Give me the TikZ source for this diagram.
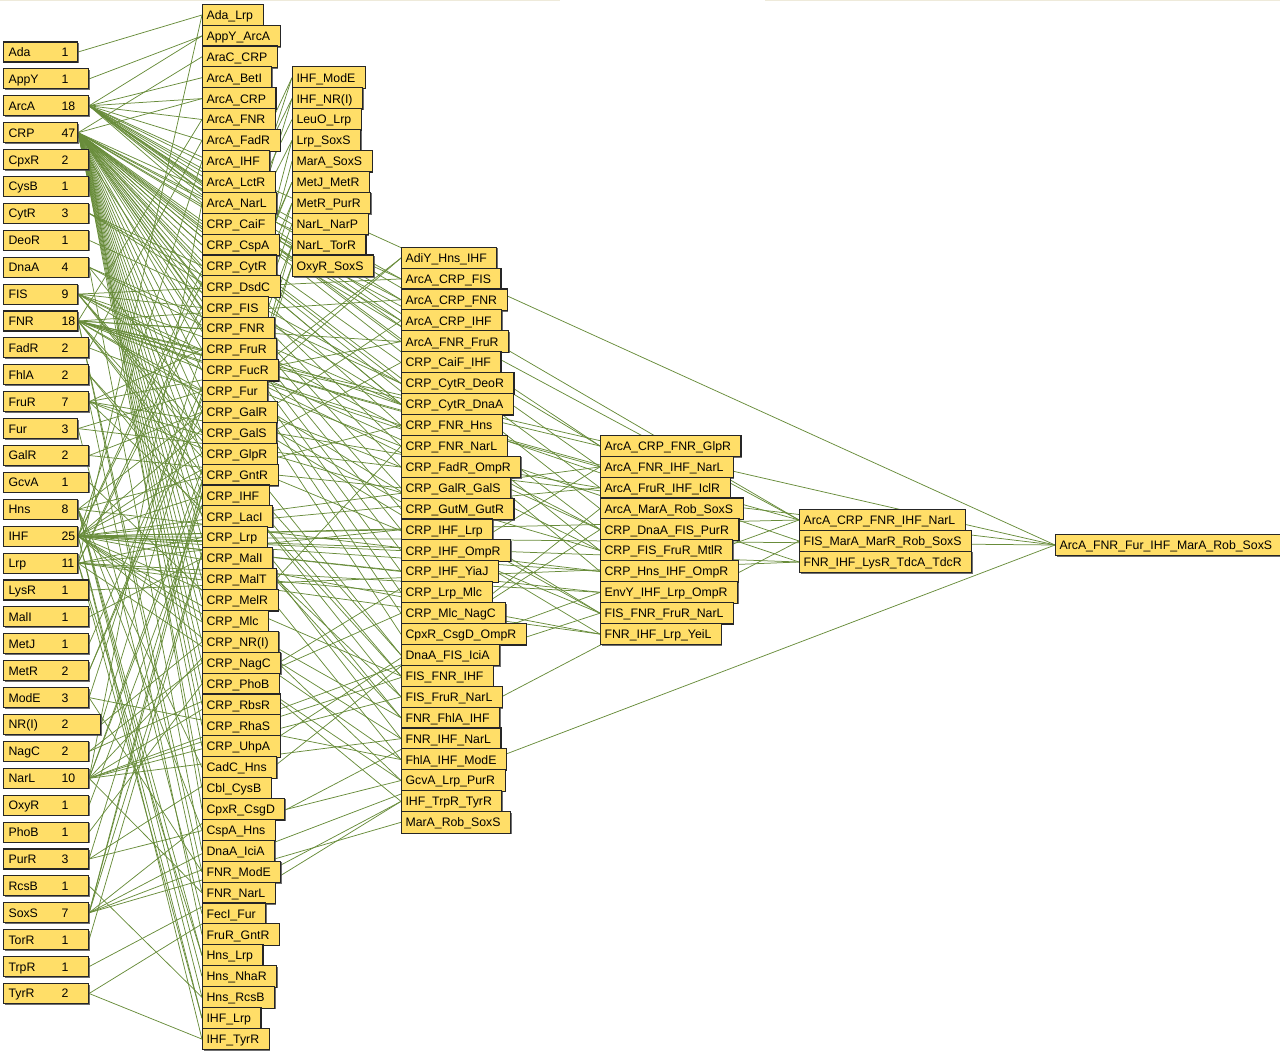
\documentclass[tikz,border=0pt]{standalone}
\usepackage{fontspec}
\setmainfont{Liberation Sans}
\usetikzlibrary{backgrounds,shadows}
\definecolor{boxfill}{RGB}{255,222,104}
\definecolor{boxline}{RGB}{38,38,38}
\definecolor{edgecol}{RGB}{104,140,58}
\definecolor{toplinecol}{RGB}{238,234,218}
\begin{document}
\begin{tikzpicture}[x=1pt,y=-1pt,
  box/.style={draw=boxline, line width=1.1pt, fill=boxfill, inner xsep=0pt, inner ysep=0pt,
    text height=8.9pt, text depth=0pt, font=\fontsize{12.3}{14}\selectfont,
    drop shadow={shadow xshift=1pt, shadow yshift=-1pt, fill=black!70, opacity=0.8}},
  single/.style={box, minimum height=20pt, anchor=west},
  combo/.style={box, minimum height=21.5pt, anchor=west},
  edge/.style={draw=edgecol, line width=0.75pt}]
\useasboundingbox (0,0) rectangle (1280,1056);
\draw[toplinecol, line width=1pt] (0,1) -- (560,1) (765,1) -- (1280,1);
% column 1: single regulators
\foreach \nm/\lab/\cnt/\w [count=\i from 0] in {Ada/Ada/1/74, AppY/AppY/1/85, ArcA/ArcA/18/85, CRP/CRP/47/74, CpxR/CpxR/2/85, CysB/CysB/1/85, CytR/CytR/3/85, DeoR/DeoR/1/85, DnaA/DnaA/4/85, FIS/FIS/9/74, FNR/FNR/18/74, FadR/FadR/2/85, FhlA/FhlA/2/85, FruR/FruR/7/85, Fur/Fur/3/74, GalR/GalR/2/85, GcvA/GcvA/1/85, Hns/Hns/8/74, IHF/IHF/25/74, Lrp/Lrp/11/74, LysR/LysR/1/85, MalI/MalI/1/85, MetJ/MetJ/1/85, MetR/MetR/2/85, ModE/ModE/3/85, NRI/{NR(I)}/2/97, NagC/NagC/2/85, NarL/NarL/10/85, OxyR/OxyR/1/85, PhoB/PhoB/1/85, PurR/PurR/3/85, RcsB/RcsB/1/85, SoxS/SoxS/7/85, TorR/TorR/1/85, TrpR/TrpR/1/85, TyrR/TyrR/2/85}
  \node[single] (\nm) at (3, 52+26.9*\i) {\makebox[\w pt][l]{\hspace*{5pt}\makebox[53pt][l]{\lab}\cnt}};
% column 2: pairs
\foreach \lab/\mem [count=\i from 0] in {
  {Ada\_Lrp}/{Ada,Lrp}, {AppY\_ArcA}/{AppY,ArcA}, {AraC\_CRP}/{CRP}, {ArcA\_BetI}/{ArcA},
  {ArcA\_CRP}/{ArcA,CRP}, {ArcA\_FNR}/{ArcA,FNR}, {ArcA\_FadR}/{ArcA,FadR}, {ArcA\_IHF}/{ArcA,IHF},
  {ArcA\_LctR}/{ArcA}, {ArcA\_NarL}/{ArcA,NarL}, {CRP\_CaiF}/{CRP}, {CRP\_CspA}/{CRP},
  {CRP\_CytR}/{CRP,CytR}, {CRP\_DsdC}/{CRP}, {CRP\_FIS}/{CRP,FIS}, {CRP\_FNR}/{CRP,FNR},
  {CRP\_FruR}/{CRP,FruR}, {CRP\_FucR}/{CRP}, {CRP\_Fur}/{CRP,Fur}, {CRP\_GalR}/{CRP,GalR},
  {CRP\_GalS}/{CRP}, {CRP\_GlpR}/{CRP}, {CRP\_GntR}/{CRP}, {CRP\_IHF}/{CRP,IHF},
  {CRP\_LacI}/{CRP}, {CRP\_Lrp}/{CRP,Lrp}, {CRP\_MalI}/{CRP,MalI}, {CRP\_MalT}/{CRP},
  {CRP\_MelR}/{CRP}, {CRP\_Mlc}/{CRP}, {CRP\_NR(I)}/{CRP,NRI}, {CRP\_NagC}/{CRP,NagC},
  {CRP\_PhoB}/{CRP,PhoB}, {CRP\_RbsR}/{CRP}, {CRP\_RhaS}/{CRP}, {CRP\_UhpA}/{CRP},
  {CadC\_Hns}/{Hns}, {Cbl\_CysB}/{CysB}, {CpxR\_CsgD}/{CpxR}, {CspA\_Hns}/{Hns},
  {DnaA\_IciA}/{DnaA}, {FNR\_ModE}/{FNR,ModE}, {FNR\_NarL}/{FNR,NarL}, {FecI\_Fur}/{Fur},
  {FruR\_GntR}/{FruR}, {Hns\_Lrp}/{Hns,Lrp}, {Hns\_NhaR}/{Hns}, {Hns\_RcsB}/{Hns,RcsB},
  {IHF\_Lrp}/{IHF,Lrp}, {IHF\_TyrR}/{IHF,TyrR}} {
  \node[combo] (p\i) at (202, 15+20.9*\i) {\hspace*{4pt}\lab\hspace*{10pt}};
  \begin{scope}[on background layer]
    \foreach \m in \mem {\draw[edge] (\m.east) -- (p\i.west);}
  \end{scope}
}
% column 2b: pairs (continued)
\foreach \lab/\mem [count=\i from 3] in {
  {IHF\_ModE}/{IHF,ModE}, {IHF\_NR(I)}/{IHF,NRI}, {LeuO\_Lrp}/{Lrp}, {Lrp\_SoxS}/{Lrp,SoxS},
  {MarA\_SoxS}/{SoxS}, {MetJ\_MetR}/{MetJ,MetR}, {MetR\_PurR}/{MetR,PurR}, {NarL\_NarP}/{NarL},
  {NarL\_TorR}/{NarL,TorR}, {OxyR\_SoxS}/{OxyR,SoxS}} {
  \node[combo] (q\i) at (292, 15+20.9*\i) {\hspace*{4pt}\lab\hspace*{10pt}};
  \begin{scope}[on background layer]
    \foreach \m in \mem {\draw[edge] (\m.east) -- (q\i.west);}
  \end{scope}
}
% column 3: triples
\foreach \lab/\mem [count=\i from 0] in {
  {AdiY\_Hns\_IHF}/{Hns,IHF}, {ArcA\_CRP\_FIS}/{ArcA,CRP,FIS}, {ArcA\_CRP\_FNR}/{ArcA,CRP,FNR},
  {ArcA\_CRP\_IHF}/{ArcA,CRP,IHF}, {ArcA\_FNR\_FruR}/{ArcA,FNR,FruR}, {CRP\_CaiF\_IHF}/{CRP,IHF},
  {CRP\_CytR\_DeoR}/{CRP,CytR,DeoR}, {CRP\_CytR\_DnaA}/{CRP,CytR,DnaA}, {CRP\_FNR\_Hns}/{CRP,FNR,Hns},
  {CRP\_FNR\_NarL}/{CRP,FNR,NarL}, {CRP\_FadR\_OmpR}/{CRP,FadR}, {CRP\_GalR\_GalS}/{CRP,GalR},
  {CRP\_GutM\_GutR}/{CRP}, {CRP\_IHF\_Lrp}/{CRP,IHF,Lrp}, {CRP\_IHF\_OmpR}/{CRP,IHF},
  {CRP\_IHF\_YiaJ}/{CRP,IHF}, {CRP\_Lrp\_Mlc}/{CRP,Lrp}, {CRP\_Mlc\_NagC}/{CRP,NagC},
  {CpxR\_CsgD\_OmpR}/{CpxR}, {DnaA\_FIS\_IciA}/{DnaA,FIS}, {FIS\_FNR\_IHF}/{FIS,FNR,IHF},
  {FIS\_FruR\_NarL}/{FIS,FruR,NarL}, {FNR\_FhlA\_IHF}/{FNR,FhlA,IHF}, {FNR\_IHF\_NarL}/{FNR,IHF,NarL},
  {FhlA\_IHF\_ModE}/{FhlA,IHF,ModE}, {GcvA\_Lrp\_PurR}/{GcvA,Lrp,PurR}, {IHF\_TrpR\_TyrR}/{IHF,TrpR,TyrR},
  {MarA\_Rob\_SoxS}/{SoxS}} {
  \node[combo] (r\i) at (401, 258+20.9*\i) {\hspace*{4pt}\lab\hspace*{10pt}};
  \begin{scope}[on background layer]
    \foreach \m in \mem {\draw[edge] (\m.east) -- (r\i.west);}
  \end{scope}
}
% column 4: quadruples
\foreach \lab/\mem [count=\i from 0] in {
  {ArcA\_CRP\_FNR\_GlpR}/{ArcA,CRP,FNR}, {ArcA\_FNR\_IHF\_NarL}/{ArcA,FNR,IHF,NarL},
  {ArcA\_FruR\_IHF\_IclR}/{ArcA,FruR,IHF}, {ArcA\_MarA\_Rob\_SoxS}/{ArcA,SoxS},
  {CRP\_DnaA\_FIS\_PurR}/{CRP,DnaA,FIS,PurR}, {CRP\_FIS\_FruR\_MtlR}/{CRP,FIS,FruR},
  {CRP\_Hns\_IHF\_OmpR}/{CRP,Hns,IHF}, {EnvY\_IHF\_Lrp\_OmpR}/{IHF,Lrp},
  {FIS\_FNR\_FruR\_NarL}/{FIS,FNR,FruR,NarL}, {FNR\_IHF\_Lrp\_YeiL}/{FNR,IHF,Lrp}} {
  \node[combo] (s\i) at (600, 446+20.9*\i) {\hspace*{4pt}\lab\hspace*{10pt}};
  \begin{scope}[on background layer]
    \foreach \m in \mem {\draw[edge] (\m.east) -- (s\i.west);}
  \end{scope}
}
% column 5: quintuples
\foreach \lab/\mem [count=\i from 0] in {
  {ArcA\_CRP\_FNR\_IHF\_NarL}/{ArcA,CRP,FNR,IHF,NarL},
  {FIS\_MarA\_MarR\_Rob\_SoxS}/{FIS,SoxS},
  {FNR\_IHF\_LysR\_TdcA\_TdcR}/{FNR,IHF,LysR}} {
  \node[combo] (t\i) at (799, 520+21*\i) {\hspace*{4pt}\lab\hspace*{10pt}};
  \begin{scope}[on background layer]
    \foreach \m in \mem {\draw[edge] (\m.east) -- (t\i.west);}
  \end{scope}
}
% column 6: the seven-member combination
\node[combo] (u0) at (1055, 545) {\hspace*{4pt}ArcA\_FNR\_Fur\_IHF\_MarA\_Rob\_SoxS\hspace*{10pt}};
\begin{scope}[on background layer]
  \foreach \m in {ArcA,FNR,Fur,IHF,SoxS} {\draw[edge] (\m.east) -- (u0.west);}
\end{scope}
\end{tikzpicture}
\end{document}
